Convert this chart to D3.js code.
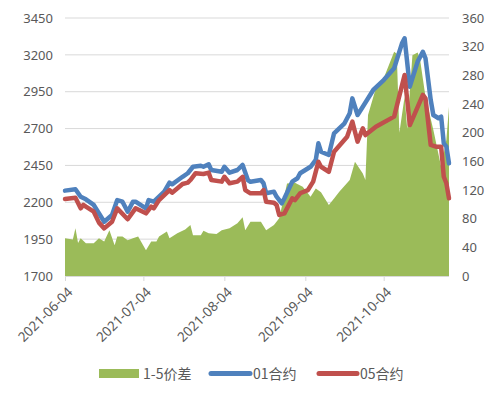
<!DOCTYPE html>
<html><head><meta charset="utf-8">
<script src="https://cdn.jsdelivr.net/npm/d3@7"></script>
<style>
body{margin:0;background:#fff;}
svg{display:block;}
</style></head>
<body>
<svg id="chart" width="499" height="395"></svg>
<script>
// ---- data ----
const leftTicks = [1700, 1950, 2200, 2450, 2700, 2950, 3200, 3450];
const rightTicks = [0, 40, 80, 120, 160, 200, 240, 280, 320, 360];
const xTickLabels = ["2021-06-04", "2021-07-04", "2021-08-04", "2021-09-04", "2021-10-04"];
const seriesNames = ["1-5价差", "01合约", "05合约"];

const dates01 = ["06-04","06-08","06-10","06-12","06-15","06-19","06-22","06-24","06-26","06-28","06-30","07-01","07-05","07-06","07-08","07-12","07-14","07-15","07-19","07-21","07-23","07-26","07-27","07-29","07-30","08-03","08-04","08-06","08-09","08-11","08-13","08-14","08-18","08-19","08-20","08-23","08-24","08-26","08-27","08-30","09-01","09-02","09-04","09-06","09-08","09-09","09-10","09-13","09-15","09-19","09-21","09-22","09-24","09-26","09-30","10-04","10-08","10-11","10-12","10-14","10-17","10-19","10-20","10-22","10-23","10-25","10-26","10-27","10-28","10-29"];
const values01 = [2279,2288,2238,2220,2182,2068,2114,2215,2204,2136,2204,2204,2159,2215,2204,2272,2333,2322,2373,2397,2441,2448,2441,2458,2419,2407,2441,2401,2419,2453,2351,2339,2351,2329,2261,2272,2238,2193,2227,2340,2363,2397,2419,2441,2487,2600,2543,2521,2668,2736,2804,2905,2792,2848,2962,3029,3109,3278,3312,2984,3154,3221,3177,2894,2792,2770,2781,2600,2577,2464];

const dates05 = ["06-04","06-08","06-10","06-11","06-12","06-15","06-17","06-19","06-22","06-24","06-28","07-01","07-05","07-07","07-08","07-10","07-14","07-15","07-19","07-21","07-22","07-24","07-27","07-29","07-30","08-03","08-04","08-06","08-09","08-11","08-12","08-14","08-18","08-19","08-20","08-23","08-24","08-25","08-27","08-30","08-31","09-02","09-05","09-07","09-09","09-10","09-13","09-15","09-20","09-22","09-24","09-26","09-27","10-01","10-08","10-12","10-14","10-19","10-20","10-22","10-24","10-26","10-27","10-28","10-29"];
const values05 = [2222,2231,2159,2182,2170,2136,2062,2023,2068,2159,2085,2159,2125,2170,2159,2215,2283,2265,2324,2333,2351,2397,2392,2401,2351,2340,2373,2329,2340,2373,2283,2261,2261,2283,2204,2197,2182,2114,2125,2227,2215,2261,2283,2340,2475,2441,2407,2543,2645,2747,2611,2702,2656,2713,2781,3063,2724,2928,2905,2589,2577,2577,2373,2329,2227];

const datesSpread = ["06-04","06-07","06-08","06-09","06-10","06-12","06-15","06-17","06-19","06-21","06-23","06-24","06-26","06-28","06-30","07-02","07-05","07-07","07-09","07-10","07-13","07-14","07-17","07-20","07-22","07-23","07-26","07-27","07-29","08-01","08-03","08-06","08-09","08-11","08-12","08-14","08-18","08-20","08-23","08-25","08-28","08-31","09-03","09-06","09-08","09-10","09-13","09-15","09-17","09-21","09-23","09-26","09-27","09-28","10-01","10-04","10-08","10-09","10-10","10-12","10-13","10-15","10-17","10-18","10-20","10-23","10-26","10-28","10-29"];
const valuesSpread = [52.6,51,66.5,46,52.6,45.6,45.6,52.6,48,64,43,55,55,50,52.6,55,36,48,48,55,62,52.6,59.5,65,71,57,57,63,59.5,58.6,64,66.5,73.5,82,64,75.7,75.7,64,71,80.5,129,130,124.6,110.6,122,117,99,108,117.6,134,159.5,143,134,224.6,262,276,313,310,200,250,205,308,312,300,250,204,152,190,236];

// ---- layout ----
const svg = d3.select("#chart");
const mLeft = 65, mRight = 449, mTop = 18, mBottom = 276;
const parse = d => new Date("2021-" + d + "T00:00:00");
const font = "'Noto Sans', 'Noto Sans CJK SC', sans-serif";

const x = d3.scaleTime().domain([parse("06-04"), parse("10-29")]).range([mLeft, mRight]);
const yL = d3.scaleLinear().domain([1700, 3450]).range([mBottom, mTop]);
const yR = d3.scaleLinear().domain([0, 360]).range([mBottom, mTop]);

// gridlines
svg.append("g").selectAll("line").data(leftTicks.slice(1)).join("line")
  .attr("x1", mLeft).attr("x2", mRight)
  .attr("y1", d => yL(d)).attr("y2", d => yL(d))
  .attr("stroke", "#d9d9d9").attr("stroke-width", 1);

// area
const spread = datesSpread.map((d, i) => ({ d: parse(d), v: valuesSpread[i] }));
svg.append("path").datum(spread)
  .attr("fill", "#9bbb59")
  .attr("d", d3.area().x(p => x(p.d)).y0(yR(0)).y1(p => yR(p.v)));

// lines
const s01 = dates01.map((d, i) => ({ d: parse(d), v: values01[i] }));
const s05 = dates05.map((d, i) => ({ d: parse(d), v: values05[i] }));
const line = d3.line().x(p => x(p.d)).y(p => yL(p.v));
svg.append("path").datum(s01).attr("fill", "none").attr("stroke", "#4f81bd")
  .attr("stroke-width", 4.5).attr("stroke-linejoin", "round").attr("stroke-linecap", "round").attr("d", line);
svg.append("path").datum(s05).attr("fill", "none").attr("stroke", "#c0504d")
  .attr("stroke-width", 4.5).attr("stroke-linejoin", "round").attr("stroke-linecap", "round").attr("d", line);

// left axis
const gL = svg.append("g").attr("transform", `translate(${mLeft - 12},0)`)
  .call(d3.axisLeft(yL).tickValues(leftTicks).tickSize(0).tickPadding(0).tickFormat(d3.format("d")));
gL.select(".domain").remove();
gL.selectAll("text").attr("font-family", font).attr("font-size", 13).attr("fill", "#595959");

// right axis
const gR = svg.append("g").attr("transform", `translate(${mRight + 13},0)`)
  .call(d3.axisRight(yR).tickValues(rightTicks).tickSize(0).tickPadding(0));
gR.select(".domain").remove();
gR.selectAll("text").attr("font-family", font).attr("font-size", 13).attr("fill", "#595959");

// bottom axis
const gB = svg.append("g").attr("transform", `translate(0,${mBottom})`)
  .call(d3.axisBottom(x).tickValues(xTickLabels.map(s => new Date(s + "T00:00:00"))).tickSize(5)
    .tickFormat(d3.timeFormat("%Y-%m-%d")));
gB.select(".domain").attr("stroke", "#d9d9d9").attr("d", `M${mLeft},0.5H${mRight}`);
gB.selectAll(".tick line").attr("stroke", "#d9d9d9");
gB.selectAll("text").attr("font-family", font).attr("font-size", 13.5).attr("fill", "#595959")
  .attr("text-anchor", "end").attr("dy", 0).attr("y", 0)
  .attr("transform", "translate(8,17) rotate(-45)");

// legend
const lg = svg.append("g").attr("font-family", "'Noto Sans CJK SC', sans-serif").attr("font-size", 14).attr("fill", "#595959");
lg.append("rect").attr("x", 99).attr("y", 369).attr("width", 40).attr("height", 9).attr("fill", "#9bbb59");
lg.append("text").attr("x", 143).attr("y", 379).text(seriesNames[0]);
lg.append("line").attr("x1", 211).attr("x2", 250).attr("y1", 373.5).attr("y2", 373.5)
  .attr("stroke", "#4f81bd").attr("stroke-width", 5).attr("stroke-linecap", "round");
lg.append("text").attr("x", 253).attr("y", 379).text(seriesNames[1]);
lg.append("line").attr("x1", 319).attr("x2", 357).attr("y1", 373.5).attr("y2", 373.5)
  .attr("stroke", "#c0504d").attr("stroke-width", 5).attr("stroke-linecap", "round");
lg.append("text").attr("x", 360).attr("y", 379).text(seriesNames[2]);
</script>
</body></html>
